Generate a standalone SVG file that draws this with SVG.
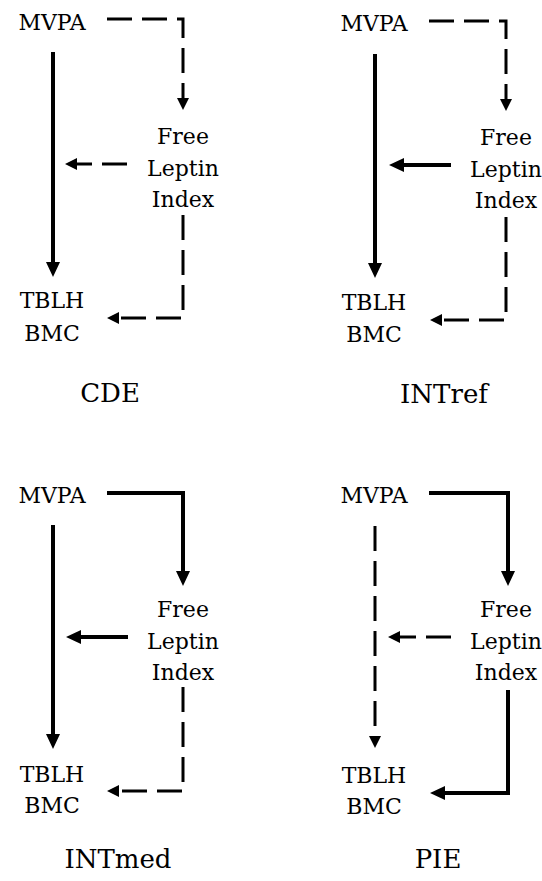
<svg xmlns="http://www.w3.org/2000/svg" width="542" height="881" viewBox="0 0 542 881">
<style>
text{font-family:"DejaVu Serif","Liberation Serif",serif;font-size:22px;fill:#000;text-anchor:middle}
text.cap{font-size:26px}
.s{fill:none;stroke:#000;stroke-width:4;marker-end:url(#hs)}
.d{fill:none;stroke:#000;stroke-width:3;stroke-dasharray:25 10;marker-end:url(#hd)}
</style>
<defs>
<marker id="hs" markerUnits="userSpaceOnUse" markerWidth="15" markerHeight="14" refX="0" refY="7" orient="auto" overflow="visible"><path d="M0,0 L15,7 L0,14 Z" fill="#000"/></marker>
<marker id="hd" markerUnits="userSpaceOnUse" markerWidth="12" markerHeight="12" refX="0" refY="6" orient="auto" overflow="visible"><path d="M0,0 L12,6 L0,12 Z" fill="#000"/></marker>
</defs>
<rect width="542" height="881" fill="#fff"/>

<g id="cde">
<g id="cde-mvpa"><text x="52" y="30">MVPA</text></g>
<g id="cde-fli"><text x="183" y="144">Free</text><text x="183" y="176">Leptin</text><text x="183" y="207">Index</text></g>
<g id="cde-tblh"><text x="52" y="308">TBLH</text><text x="52" y="341">BMC</text></g>
<g id="cde-label"><text class="cap" x="110" y="402">CDE</text></g>
</g>

<g id="intref">
<g id="intref-mvpa"><text x="374" y="31">MVPA</text></g>
<g id="intref-fli"><text x="506" y="145">Free</text><text x="506" y="177">Leptin</text><text x="506" y="208">Index</text></g>
<g id="intref-tblh"><text x="374" y="310">TBLH</text><text x="374" y="342">BMC</text></g>
<g id="intref-label"><text class="cap" x="444" y="403">INTref</text></g>
</g>

<g id="intmed">
<g id="intmed-mvpa"><text x="52" y="503">MVPA</text></g>
<g id="intmed-fli"><text x="183" y="617">Free</text><text x="183" y="649">Leptin</text><text x="183" y="680">Index</text></g>
<g id="intmed-tblh"><text x="52" y="782">TBLH</text><text x="52" y="813">BMC</text></g>
<g id="intmed-label"><text class="cap" x="118" y="868">INTmed</text></g>
</g>

<g id="pie">
<g id="pie-mvpa"><text x="374" y="503">MVPA</text></g>
<g id="pie-fli"><text x="506" y="617">Free</text><text x="506" y="649">Leptin</text><text x="506" y="680">Index</text></g>
<g id="pie-tblh"><text x="374" y="783">TBLH</text><text x="374" y="814">BMC</text></g>
<g id="pie-label"><text class="cap" x="438" y="868">PIE</text></g>
</g>

<g id="connectors">
<path class="d" d="M107,19 H183 V98"/>
<path class="d" d="M127,164 H77"/>
<path class="s" d="M53,52 V262"/>
<path class="d" d="M183,215 V318 H119"/>

<path class="d" d="M429,21 H506 V99"/>
<path class="s" d="M451,165 H404"/>
<path class="s" d="M375,54 V263"/>
<path class="d" d="M506,217 V320 H442"/>

<path class="s" d="M107,493 H183 V571"/>
<path class="s" d="M128,637 H81"/>
<path class="s" d="M53,525 V734"/>
<path class="d" d="M183,687 V791 H119"/>

<path class="s" d="M429,493 H508 V571"/>
<path class="d" d="M451,637 H400"/>
<path class="d" d="M375,526 V736"/>
<path class="s" d="M508,690 V793 H445"/>
</g>
</svg>
